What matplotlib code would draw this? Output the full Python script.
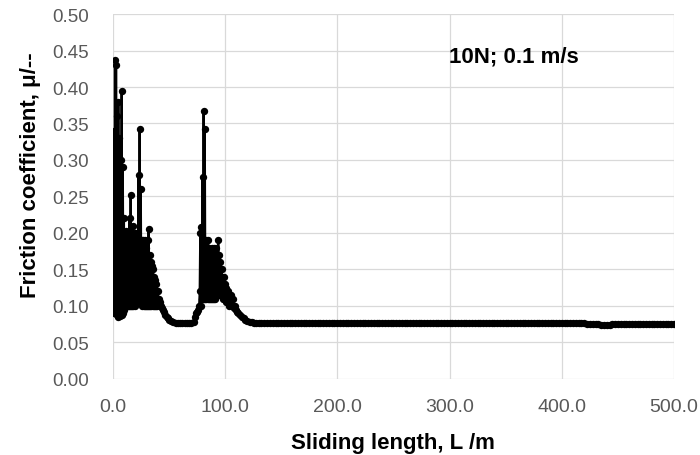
import numpy as np
import matplotlib
matplotlib.use("Agg")
import matplotlib.pyplot as plt

plt.rcParams['font.family'] = ['Liberation Sans', 'DejaVu Sans']

# run-in period, sampled every 0.5 m
runin_x = np.arange(0.0, 40.5, 0.5)
runin_mu = [
    0.27, 0.10, 0.34, 0.09, 0.437, 0.09, 0.43, 0.088, 0.36, 0.085,
    0.38, 0.09, 0.33, 0.086, 0.30, 0.09, 0.395, 0.088, 0.29, 0.09,
    0.22, 0.095, 0.19, 0.10, 0.203, 0.10, 0.19, 0.10, 0.20, 0.10,
    0.22, 0.10, 0.252, 0.10, 0.20, 0.10, 0.21, 0.10, 0.19, 0.10,
    0.20, 0.105, 0.19, 0.105, 0.20, 0.105, 0.28, 0.105, 0.342, 0.105,
    0.26, 0.105, 0.19, 0.10, 0.19, 0.10, 0.18, 0.10, 0.19, 0.10,
    0.18, 0.10, 0.19, 0.10, 0.205, 0.10, 0.17, 0.10, 0.16, 0.10,
    0.155, 0.10, 0.15, 0.10, 0.14, 0.10, 0.135, 0.10, 0.13, 0.10,
    0.12,
]

# decay to the first low-friction plateau
plateau_x = [41, 42, 43, 44, 45, 46, 47, 48, 49, 50,
             52, 54, 56, 58, 60, 62, 64, 66, 68, 70,
             72, 73, 74, 75, 76, 77, 77.5]
plateau_mu = [0.11, 0.105, 0.10, 0.097, 0.094, 0.091, 0.088, 0.085, 0.083, 0.081,
              0.079, 0.078, 0.077, 0.076, 0.076, 0.076, 0.076, 0.076, 0.076, 0.076,
              0.078, 0.085, 0.09, 0.092, 0.095, 0.10, 0.12]

# second unstable period
burst_x = np.arange(78.0, 98.5, 0.5)
burst_mu = [
    0.20, 0.10, 0.208, 0.11, 0.276, 0.11, 0.367, 0.11, 0.343, 0.11,
    0.19, 0.11, 0.18, 0.11, 0.19, 0.11, 0.18, 0.11, 0.17, 0.11,
    0.18, 0.11, 0.17, 0.11, 0.18, 0.11, 0.17, 0.11, 0.18, 0.115,
    0.17, 0.115, 0.19, 0.115, 0.17, 0.115, 0.16, 0.115, 0.15, 0.115,
    0.14,
]

tail_x = [98.5, 99, 99.5, 100, 100.5, 101, 102, 103, 104, 105, 106, 107, 108,
          109, 110, 111, 112, 113.5, 115, 116.5, 118, 120, 122, 124, 126, 128]
tail_mu = [0.11, 0.14, 0.11, 0.13, 0.105, 0.125, 0.105, 0.12, 0.10, 0.115,
           0.10, 0.11, 0.097, 0.10, 0.094, 0.092, 0.09, 0.087, 0.085, 0.083,
           0.081, 0.079, 0.078, 0.078, 0.077, 0.077]

# steady state, every 2.5 m from 130 m to 500 m
steady_x = np.arange(130, 502.5, 2.5)
steady_mu = [
    0.077, 0.077, 0.077, 0.077, 0.077, 0.077, 0.077, 0.077, 0.077, 0.077,
    0.077, 0.077, 0.077, 0.077, 0.077, 0.077, 0.077, 0.077, 0.077, 0.077,
    0.077, 0.077, 0.077, 0.077, 0.077, 0.077, 0.077, 0.077, 0.077, 0.077,
    0.077, 0.077, 0.077, 0.077, 0.077, 0.077, 0.077, 0.077, 0.077, 0.077,
    0.077, 0.077, 0.077, 0.077, 0.077, 0.077, 0.077, 0.077, 0.077, 0.076,
    0.076, 0.076, 0.076, 0.076, 0.076, 0.076, 0.076, 0.076, 0.076, 0.076,
    0.076, 0.076, 0.076, 0.076, 0.076, 0.076, 0.076, 0.076, 0.076, 0.076,
    0.076, 0.076, 0.076, 0.076, 0.076, 0.076, 0.076, 0.076, 0.076, 0.076,
    0.076, 0.076, 0.076, 0.076, 0.076, 0.076, 0.076, 0.076, 0.076, 0.076,
    0.076, 0.076, 0.076, 0.076, 0.076, 0.076, 0.076, 0.076, 0.076, 0.076,
    0.076, 0.076, 0.076, 0.076, 0.076, 0.076, 0.076, 0.076, 0.076, 0.076,
    0.076, 0.076, 0.076, 0.076, 0.076, 0.076, 0.076, 0.075, 0.075, 0.075,
    0.075, 0.075, 0.074, 0.074, 0.074, 0.074, 0.075, 0.075, 0.075, 0.075,
    0.075, 0.075, 0.075, 0.075, 0.075, 0.075, 0.075, 0.075, 0.075, 0.075,
    0.075, 0.075, 0.075, 0.075, 0.075, 0.075, 0.075, 0.075, 0.075,
]

length = np.concatenate([runin_x, plateau_x, burst_x, tail_x, steady_x])
mu = np.concatenate([runin_mu, plateau_mu, burst_mu, tail_mu, steady_mu])

x_ticks = [0, 100, 200, 300, 400, 500]
y_ticks = [0.00, 0.05, 0.10, 0.15, 0.20, 0.25, 0.30, 0.35, 0.40, 0.45, 0.50]

fig = plt.figure(figsize=(7.0, 4.56), dpi=100)
ax = fig.add_axes([0.161, 0.167, 0.802, 0.800])

ax.plot(length, mu, color='black', lw=1.6, marker='o', ms=5.3,
        markeredgewidth=0, zorder=3)

ax.set_xlim(0, 500)
ax.set_ylim(0, 0.5)
ax.set_xticks(x_ticks)
ax.set_xticklabels([f"{v:.1f}" for v in x_ticks])
ax.set_yticks(y_ticks)
ax.set_yticklabels([f"{v:.2f}" for v in y_ticks])
ax.tick_params(length=0, labelcolor='#595959')
ax.tick_params(axis='y', labelsize=13.5, pad=17)
ax.tick_params(axis='x', labelsize=14, pad=14)

ax.grid(True, color='#d9d9d9', lw=0.9)
ax.set_axisbelow(True)
for s in ax.spines.values():
    s.set_visible(False)

ax.set_xlabel("Sliding length, L /m", fontsize=16, fontweight='bold', labelpad=12)
ax.set_ylabel("Friction coefficient, μ/--", fontsize=16, fontweight='bold')
ax.yaxis.set_label_coords(-0.128, 0.56)

ax.text(357, 0.442, "10N; 0.1 m/s", fontsize=16, fontweight='bold',
        ha='center', va='center')

fig.savefig("out.png", dpi=100)
